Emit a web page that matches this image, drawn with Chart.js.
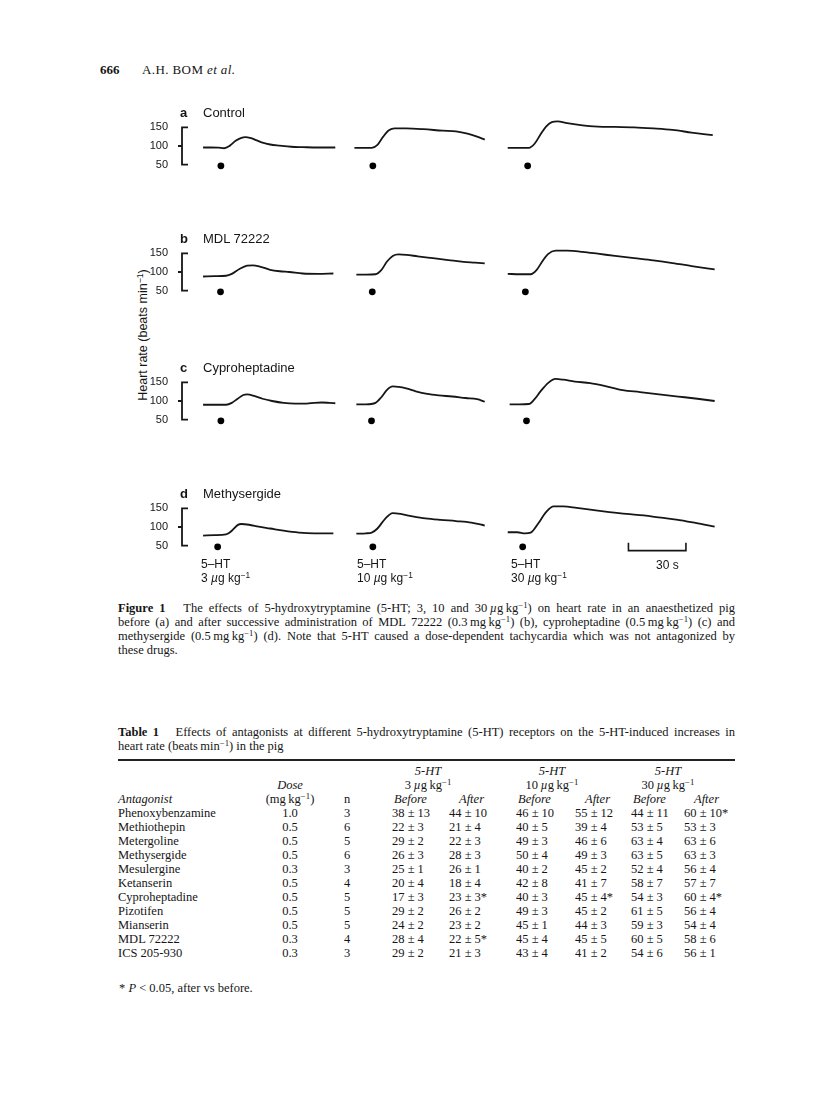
<!DOCTYPE html>
<html>
<head>
<meta charset="utf-8">
<title>Figure 1</title>
<script src="https://cdn.jsdelivr.net/npm/chart.js@4.4.1/dist/chart.umd.min.js"></script>
<style>
  body { margin: 0; background: #fff; }
  #page { position: relative; width: 816px; height: 1104px; overflow: hidden; font-family: "Liberation Serif", "Times New Roman", serif; color: #151515; }
  .t { position: absolute; white-space: nowrap; line-height: 14px; }
  .sans { font-family: "Liberation Sans", Arial, sans-serif; }
  .sp { font-size: 0.7em; position: relative; top: -0.45em; }
  canvas { position: absolute; }
  .line { position: absolute; left: 118px; width: 617px; font-size: 12.5px; line-height: 14px; text-align: justify; text-align-last: justify; }
  .last { text-align-last: left; }
</style>
</head>
<body>
<div id="page">
  <div class="t" style="left:100px;top:63px;font-size:13px;font-weight:bold;">666</div>
  <div class="t" style="left:142px;top:63px;font-size:13px;letter-spacing:0.4px;">A.H. BOM <i>et al.</i></div>

  <div class="t sans" id="ylab" style="left:143px;top:335px;font-size:12.5px;transform-origin:0 0;transform:rotate(-90deg) translate(-50%,-50%);"></div>

  <canvas id="panel0" width="604" height="84"></canvas>
  <canvas id="panel1" width="604" height="84"></canvas>
  <canvas id="panel2" width="604" height="84"></canvas>
  <canvas id="panel3" width="604" height="84"></canvas>

  <div class="line" style="top:601px;"><b>Figure 1</b>&nbsp;&nbsp; The effects of 5-hydroxytryptamine (5-HT; 3, 10 and 30&thinsp;<i>µ</i>g&thinsp;kg<span class="sp">−1</span>) on heart rate in an anaesthetized pig</div>
  <div class="line" style="top:615px;">before (a) and after successive administration of MDL 72222 (0.3&thinsp;mg&thinsp;kg<span class="sp">−1</span>) (b), cyproheptadine (0.5&thinsp;mg&thinsp;kg<span class="sp">−1</span>) (c) and</div>
  <div class="line" style="top:629px;">methysergide (0.5&thinsp;mg&thinsp;kg<span class="sp">−1</span>) (d). Note that 5-HT caused a dose-dependent tachycardia which was not antagonized by</div>
  <div class="line last" style="top:643px;">these drugs.</div>

  <div class="line" style="top:725px;"><b>Table 1</b>&nbsp;&nbsp; Effects of antagonists at different 5-hydroxytryptamine (5-HT) receptors on the 5-HT-induced increases in</div>
  <div class="line last" style="top:739px;">heart rate (beats&thinsp;min<span class="sp">−1</span>) in the pig</div>
  <div style="position:absolute;left:118px;top:759px;width:617px;height:1.5px;background:#222;"></div>
  <div class="t" style="left:119px;top:981px;font-size:12.5px;">* <i>P</i> &lt; 0.05, after vs before.</div>
</div>

<script>
// figure data: heart rate (beats/min) against time (s)
const yTicks = [50, 100, 150];
const panelLetters = ['a', 'b', 'c', 'd'];
const panelTitles = ['Control', 'MDL 72222', 'Cyproheptadine', 'Methysergide'];
const doseLabels = ['3', '10', '30'];
const yLabel = 'Heart rate (beats min';

// 5-HT injection times (s)
const injA = [9.3, 88.6, 169.4];
const injB = [9.1, 88.3, 168.2];
const injC = [9.3, 87.9, 168.8];
const injD = [7.6, 88.6, 166.8];

// a  Control
const traceA1 = [[0,96],[4,96],[8,95.5],[11,94],[14,101],[17,114],[20,122],[22,124],[25,121],[28,115],[31,109],[35,104],[40,101],[46,98],[52,97],[60,96],[69,96]];
const traceA2 = [[79,95],[84,95],[88,95],[91,103],[94,125],[97,142],[100,147],[106,147],[115,145],[125,141],[132,139],[138,133],[143,125],[147,117]];
const traceA3 = [[159,95],[165,95],[170,95],[173,106],[176,130],[179,152],[182,164],[185,166],[190,161],[198,155],[206,152],[215,151],[225,150],[235,147],[245,143],[255,136],[266,129]];
// b  MDL 72222
const traceB1 = [[0,88],[6,89],[12,90],[15,95],[19,108],[23,117],[26,118],[30,114],[35,106],[40,102],[45,100],[52,96],[60,95],[68,96]];
const traceB2 = [[80,93],[85,93],[90,94],[93,105],[96,128],[99,143],[102,147],[106,146],[112,142],[120,137],[128,132],[136,127],[142,125],[147,123]];
const traceB3 = [[159,95],[165,94],[171,94],[174,105],[177,128],[180,148],[184,157],[190,157],[198,154],[206,149],[215,143],[225,137],[235,131],[245,124],[255,116],[267,107]];
// c  Cyproheptadine
const traceC1 = [[0,90],[6,90],[12,90],[15,95],[18,106],[21,116],[23,118],[27,113],[31,106],[36,100],[42,95],[48,93],[54,93],[58,95],[62,96],[66,95],[69,94]];
const traceC2 = [[80,91],[85,91],[90,95],[93,110],[96,130],[99,139],[102,138],[106,134],[111,126],[117,119],[123,115],[130,112],[137,108],[143,105],[147,98]];
const traceC3 = [[160,91],[165,91],[170,92],[173,105],[176,125],[180,148],[184,159],[188,157],[194,152],[202,148],[210,140],[219,129],[228,124],[238,118],[248,112],[258,106],[267,100]];
// d  Methysergide
const traceD1 = [[0,77],[6,78],[12,80],[15,90],[18,105],[20,108],[24,106],[29,101],[35,96],[42,90],[50,85],[58,83],[68,83]];
const traceD2 = [[80,82],[85,83],[88,85],[91,96],[95,122],[99,137],[103,135],[108,130],[116,123],[124,119],[132,116],[140,112],[147,104]];
const traceD3 = [[159,86],[164,86],[168,83],[171,85],[175,110],[179,140],[183,155],[188,155],[195,151],[204,145],[212,140],[221,135],[230,131],[239,125],[247,120],[257,111],[267,101]];

const scaleBar = [222, 252]; // 30 s

// table data
const antagonists = ['Phenoxybenzamine','Methiothepin','Metergoline','Methysergide','Mesulergine','Ketanserin','Cyproheptadine','Pizotifen','Mianserin','MDL 72222','ICS 205-930'];
const doses = ['1.0','0.5','0.5','0.5','0.3','0.5','0.5','0.5','0.5','0.3','0.3'];
const nAnimals = ['3','6','5','6','3','4','5','5','5','4','3'];
const before3 = ['38 ± 13','22 ± 3','29 ± 2','26 ± 3','25 ± 1','20 ± 4','17 ± 3','29 ± 2','24 ± 2','28 ± 4','29 ± 2'];
const after3 = ['44 ± 10','21 ± 4','22 ± 3','28 ± 3','26 ± 1','18 ± 4','23 ± 3*','26 ± 2','23 ± 2','22 ± 5*','21 ± 3'];
const before10 = ['46 ± 10','40 ± 5','49 ± 3','50 ± 4','40 ± 2','42 ± 8','40 ± 3','49 ± 3','45 ± 1','45 ± 4','43 ± 4'];
const after10 = ['55 ± 12','39 ± 4','46 ± 6','49 ± 3','45 ± 2','41 ± 7','45 ± 4*','45 ± 2','44 ± 3','45 ± 5','41 ± 2'];
const before30 = ['44 ± 11','53 ± 5','63 ± 4','63 ± 5','52 ± 4','58 ± 7','54 ± 3','61 ± 5','59 ± 3','60 ± 5','54 ± 6'];
const after30 = ['60 ± 10*','53 ± 3','63 ± 6','63 ± 3','56 ± 4','57 ± 7','60 ± 4*','56 ± 4','54 ± 4','58 ± 6','56 ± 1'];

const panels = [
  { inj: injA, traces: [traceA1, traceA2, traceA3] },
  { inj: injB, traces: [traceB1, traceB2, traceB3] },
  { inj: injC, traces: [traceC1, traceC2, traceC3] },
  { inj: injD, traces: [traceD1, traceD2, traceD3] }
];
const panelTop = [127, 253, 382, 508];   // page y of the 150 label
const ink = '#161616';
const page = document.getElementById('page');

function addText(html, x, y, style) {
  const d = document.createElement('div');
  d.className = 't';
  d.innerHTML = html;
  d.style.cssText = 'left:' + x + 'px;top:' + (y - 7) + 'px;' + (style || '');
  page.appendChild(d);
  return d;
}

document.getElementById('ylab').innerHTML = yLabel + '<span class="sp">−1</span>)';

const bracket = {
  id: 'bracket',
  afterDraw(chart) {
    const ys = chart.scales.y, xs = chart.scales.x;
    const ctx = chart.ctx;
    const x = chart.chartArea.left;
    const top = ys.getPixelForValue(yTicks[2]);
    const mid = ys.getPixelForValue(yTicks[1]);
    const bot = ys.getPixelForValue(yTicks[0]);
    ctx.save();
    ctx.strokeStyle = ink;
    ctx.lineWidth = 1.8;
    ctx.beginPath();
    ctx.moveTo(x + 6, top); ctx.lineTo(x, top); ctx.lineTo(x, bot); ctx.lineTo(x + 6, bot);
    ctx.moveTo(x - 4, mid); ctx.lineTo(x, mid);
    ctx.stroke();
    const sb = chart.options.plugins.bracket.scaleBar;
    if (sb) {
      const x0 = xs.getPixelForValue(sb[0]), x1 = xs.getPixelForValue(sb[1]);
      const yb = bot + 5;
      ctx.lineWidth = 1.6;
      ctx.beginPath();
      ctx.moveTo(x0, yb - 8); ctx.lineTo(x0, yb); ctx.lineTo(x1, yb); ctx.lineTo(x1, yb - 8);
      ctx.stroke();
    }
    ctx.restore();
  }
};

const padV = 14;        // layout padding above and below the plot area
const plotH = 56;       // plot area height for the y range below
panels.forEach(function (p, i) {
  const cv = document.getElementById('panel' + i);
  const yMin = 25, yMax = 175;
  cv.style.left = '130px';
  cv.style.top = (panelTop[i] - padV - (yMax - yTicks[2]) * plotH / (yMax - yMin)) + 'px';

  const datasets = p.traces.map(function (tr) {
    return {
      data: tr.map(function (pt) { return { x: pt[0], y: pt[1] }; }),
      borderColor: ink,
      borderWidth: 1.8,
      pointRadius: 0,
      cubicInterpolationMode: 'monotone',
      fill: false
    };
  });
  datasets.push({
    data: p.inj.map(function (t) { return { x: t, y: 47 }; }),
    showLine: false,
    pointRadius: 3.4,
    pointBackgroundColor: '#000',
    pointBorderWidth: 0
  });

  new Chart(cv, {
    type: 'line',
    data: { datasets: datasets },
    options: {
      responsive: false,
      animation: false,
      layout: { padding: { top: padV, bottom: padV, left: 0, right: 0 } },
      plugins: {
        legend: { display: false },
        tooltip: { enabled: false },
        bracket: { scaleBar: i === 3 ? scaleBar : null }
      },
      scales: {
        x: { type: 'linear', min: -11, max: 275, display: false },
        y: {
          min: yMin, max: yMax,
          afterBuildTicks: function (s) { s.ticks = yTicks.map(function (v) { return { value: v }; }); },
          afterFit: function (s) { s.width = 52; },
          grid: { display: false },
          border: { display: false },
          ticks: { color: ink, padding: 6, font: { family: 'Liberation Sans', size: 11 } }
        }
      }
    },
    plugins: [bracket]
  });

  addText('<b>' + panelLetters[i] + '</b>', 180, panelTop[i] - 14, 'font-family:Liberation Sans;font-size:13px;');
  addText(panelTitles[i], 203, panelTop[i] - 14, 'font-family:Liberation Sans;font-size:13px;');
});

// dose labels under panel d
const doseX = [201, 357, 511];
doseLabels.forEach(function (d, k) {
  addText('5–HT', doseX[k], 564, 'font-family:Liberation Sans;font-size:12px;');
  addText(d + ' <i>µ</i>g kg<span class="sp">−1</span>', doseX[k], 578, 'font-family:Liberation Sans;font-size:12px;');
});
addText('30 s', 656, 565, 'font-family:Liberation Sans;font-size:12px;');

// table
const tfs = 'font-size:12.5px;';
const valCols = [before3, after3, before10, after10, before30, after30];
const valLeft = [392, 449, 516, 575, 631, 684];
const pairCenter = [428, 552, 668];
['3', '10', '30'].forEach(function (d, k) {
  addText('<i>5-HT</i>', pairCenter[k], 771, tfs + 'transform:translateX(-50%);');
  addText(d + '&thinsp;<i>µ</i>g&thinsp;kg<span class="sp">−1</span>', pairCenter[k], 785, tfs + 'transform:translateX(-50%);');
  addText('<i>Before</i>', valLeft[2 * k] + 2, 799, tfs);
  addText('<i>After</i>', valLeft[2 * k + 1] + 10, 799, tfs);
});
addText('<i>Dose</i>', 290, 785, tfs + 'transform:translateX(-50%);');
addText('(mg&thinsp;kg<span class="sp">−1</span>)', 290, 799, tfs + 'transform:translateX(-50%);');
addText('n', 347, 799, tfs + 'transform:translateX(-50%);');
addText('<i>Antagonist</i>', 118, 799, tfs);

antagonists.forEach(function (name, r) {
  const y = 813 + 14 * r;
  addText(name, 118, y, tfs);
  addText(doses[r], 290, y, tfs + 'transform:translateX(-50%);');
  addText(nAnimals[r], 347, y, tfs + 'transform:translateX(-50%);');
  valCols.forEach(function (col, c) {
    addText(col[r], valLeft[c], y, tfs);
  });
});
</script>
</body>
</html>
